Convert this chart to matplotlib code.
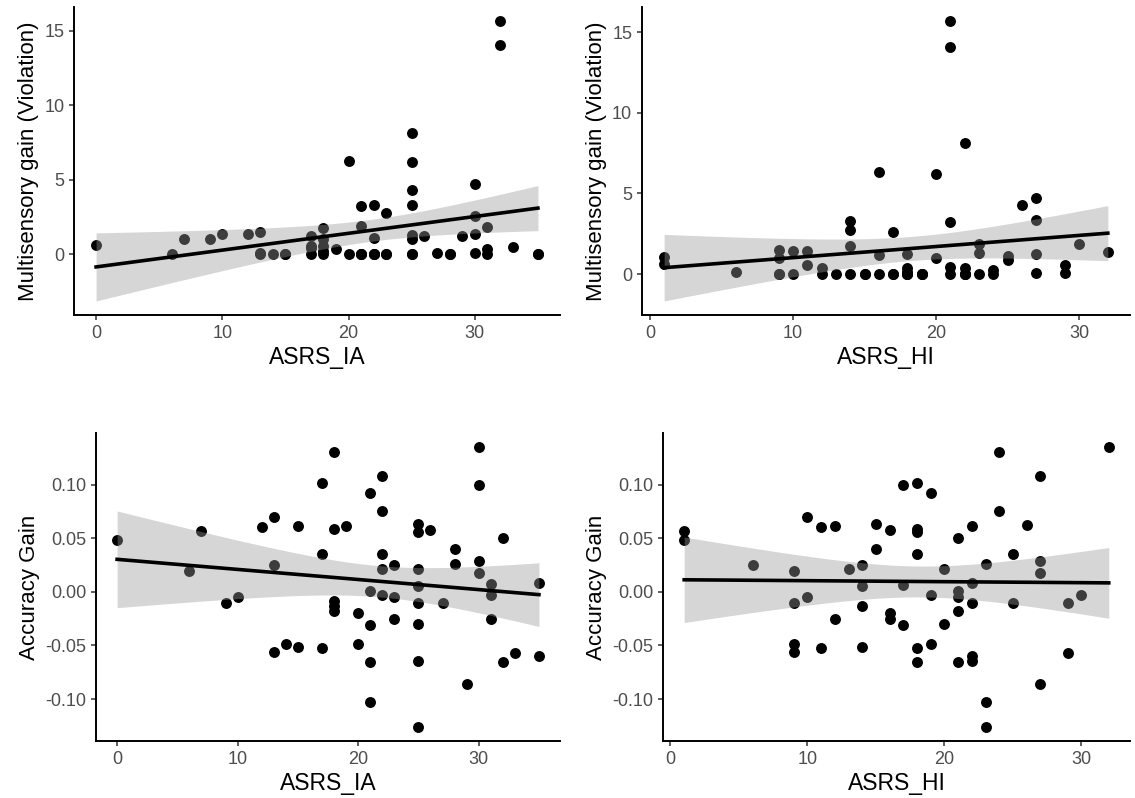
import matplotlib
matplotlib.use('Agg')
import matplotlib.pyplot as plt
import numpy as np

plt.rcParams['font.family'] = ['Liberation Sans', 'DejaVu Sans']

# top left: ASRS_IA vs multisensory gain (several zeros overlap in the picture)
ia_top = [0, 6, 7, 9, 10, 12, 13, 13, 13, 14, 15, 15, 17, 17, 17, 17, 18, 18, 18, 18, 18,
          19, 20, 20, 21, 21, 21, 21, 21, 22, 22, 22, 22, 22, 23, 23, 23, 25, 25, 25, 25, 25, 25, 25, 25,
          26, 27, 28, 28, 29, 30, 30, 30, 30, 31, 31, 31, 32, 32, 33, 35, 35]
gain_ia = [0.6, 0, 1.05, 1.0, 1.38, 1.38, 1.5, 0.1, 0, 0, 0, 0, 1.23, 0.56, 0.4, 0, 1.76, 1.0, 0.56, 0.2, 0,
           0.38, 6.3, 0, 3.24, 1.88, 0, 0, 0, 3.33, 1.07, 0, 0, 0, 2.77, 0, 0, 8.13, 6.18, 4.29, 3.3, 1.32, 1.0, 0, 0,
           1.23, 0.07, 0, 0, 1.23, 4.71, 2.6, 1.38, 0.07, 1.85, 0.38, 0, 15.67, 14.06, 0.51, 0, 0]

# top right: ASRS_HI vs multisensory gain
hi_top = [1, 1, 6, 9, 9, 9, 9, 10, 10, 11, 11, 12, 12, 13, 14, 14, 14, 14, 15, 15, 16, 16, 16,
          17, 17, 17, 18, 18, 18, 18, 18, 18, 19, 19, 19, 20, 20, 21, 21, 21, 21, 21, 22, 22, 22, 22, 22,
          23, 23, 23, 24, 24, 25, 25, 26, 27, 27, 27, 27, 29, 29, 30, 32]
gain_hi = [1.05, 0.65, 0.14, 1.5, 0.97, 0, 0, 1.4, 0, 1.4, 0.58, 0.39, 0, 0, 3.32, 2.74, 1.75, 0, 0, 0, 6.3, 1.2, 0,
           2.6, 0, 0, 1.24, 0.39, 0.1, 0, 0, 0, 0, 0, 0, 6.18, 0.99, 15.7, 14.07, 3.23, 0.45, 0, 8.12, 0.39, 0, 0, 0,
           1.85, 1.3, 0, 0.27, 0, 1.09, 0.89, 4.29, 4.72, 3.34, 1.24, 0.06, 0.58, 0.06, 1.85, 1.38]

# bottom left: ASRS_IA vs accuracy gain
ia_bot = [0, 6, 7, 9, 10, 12, 13, 13, 13, 14, 15, 15, 17, 17, 17, 18, 18, 18, 18, 18, 19,
          20, 20, 21, 21, 21, 21, 21, 22, 22, 22, 22, 22, 23, 23, 23, 25, 25, 25, 25, 25,
          25, 25, 25, 26, 27, 28, 28, 29, 30, 30, 30, 30, 31, 31, 31, 32, 32, 33, 35, 35]
acc_ia = [0.048, 0.019, 0.057, -0.010, -0.005, 0.060, 0.070, 0.025, -0.056, -0.049, 0.061, -0.051,
          0.101, 0.035, -0.052, 0.130, 0.059, -0.009, -0.013, -0.018, 0.061,
          -0.020, -0.049, 0.092, 0.001, -0.031, -0.065, -0.103, 0.108, 0.075, 0.035, 0.021, -0.003,
          0.025, -0.005, -0.025, 0.063, 0.056, 0.021, 0.005, -0.010, -0.030, -0.064, -0.126,
          0.058, -0.010, 0.040, 0.026, -0.086, 0.135, 0.100, 0.029, 0.018, 0.007, -0.003, -0.025,
          0.050, -0.065, -0.057, 0.008, -0.060]

# bottom right: ASRS_HI vs accuracy gain
hi_bot = [1, 1, 6, 9, 9, 9, 9, 10, 10, 11, 11, 12, 12, 13, 14, 14, 14, 14, 15, 15, 16, 16, 16,
          17, 17, 17, 18, 18, 18, 18, 18, 18, 19, 19, 19, 20, 20, 21, 21, 21, 21, 21, 22, 22, 22,
          22, 22, 23, 23, 23, 24, 24, 25, 25, 26, 27, 27, 27, 27, 29, 29, 30, 32]
acc_hi = [0.057, 0.048, 0.025, 0.019, -0.010, -0.049, -0.056, -0.005, 0.070, 0.060, -0.052, 0.061, -0.025,
          0.021, 0.025, 0.005, -0.013, -0.051, 0.063, 0.040, 0.058, -0.020, -0.025,
          0.100, 0.006, -0.031, 0.101, 0.059, 0.056, 0.035, -0.052, -0.065, 0.092, -0.003, -0.049,
          0.021, -0.030, 0.050, 0.001, -0.005, -0.018, -0.065, 0.061, 0.008, -0.010, -0.060, -0.064,
          0.026, -0.103, -0.126, 0.130, 0.075, 0.035, -0.010, 0.062, 0.108, 0.029, 0.018, -0.086,
          -0.010, -0.057, -0.003, 0.135]

ms_label = 'Multisensory gain (Violation)'
acc_label = 'Accuracy Gain'


def lm_band(x, y):
    x = np.asarray(x, float)
    y = np.asarray(y, float)
    n = len(x)
    b, a = np.polyfit(x, y, 1)
    resid = y - (a + b * x)
    s = np.sqrt(np.sum(resid ** 2) / (n - 2))
    xs = np.linspace(x.min(), x.max(), 80)
    se = s * np.sqrt(1 / n + (xs - x.mean()) ** 2 / np.sum((x - x.mean()) ** 2))
    fit = a + b * xs
    t = 2.0
    return xs, fit, fit - t * se, fit + t * se


def panel(ax, x, y, xlabel, ylabel, yticks, yfmt):
    ax.scatter(x, y, s=62, color='black', linewidths=0, zorder=2)
    xs, fit, lo, hi = lm_band(x, y)
    ax.fill_between(xs, lo, hi, color='#999999', alpha=0.4, linewidth=0, zorder=3)
    ax.plot(xs, fit, color='black', lw=2.6, zorder=4)
    ax.margins(0.05)
    ax.set_xticks([0, 10, 20, 30])
    ax.set_yticks(yticks)
    ax.set_yticklabels([yfmt.format(v) for v in yticks])
    ax.set_xlabel(xlabel, fontsize=16.5, labelpad=3)
    ax.set_ylabel(ylabel, fontsize=16, labelpad=4)
    for side in ['top', 'right']:
        ax.spines[side].set_visible(False)
    for side in ['left', 'bottom']:
        ax.spines[side].set_linewidth(1.4)
    ax.tick_params(labelsize=13, labelcolor='#4D4D4D', color='#333333', length=3.5, width=1.1)


fig = plt.figure(figsize=(11.35, 7.98), dpi=100)
ax1 = fig.add_axes([0.0652, 0.6053, 0.4282, 0.3860])
ax2 = fig.add_axes([0.5656, 0.6053, 0.4300, 0.3860])
ax3 = fig.add_axes([0.0846, 0.0714, 0.4088, 0.3860])
ax4 = fig.add_axes([0.5841, 0.0714, 0.4115, 0.3860])

panel(ax1, ia_top, gain_ia, 'ASRS_IA', ms_label, [0, 5, 10, 15], '{:g}')
panel(ax2, hi_top, gain_hi, 'ASRS_HI', ms_label, [0, 5, 10, 15], '{:g}')
panel(ax3, ia_bot, acc_ia, 'ASRS_IA', acc_label, [-0.10, -0.05, 0.0, 0.05, 0.10], '{:.2f}')
panel(ax4, hi_bot, acc_hi, 'ASRS_HI', acc_label, [-0.10, -0.05, 0.0, 0.05, 0.10], '{:.2f}')

fig.savefig('out.png', dpi=100)
